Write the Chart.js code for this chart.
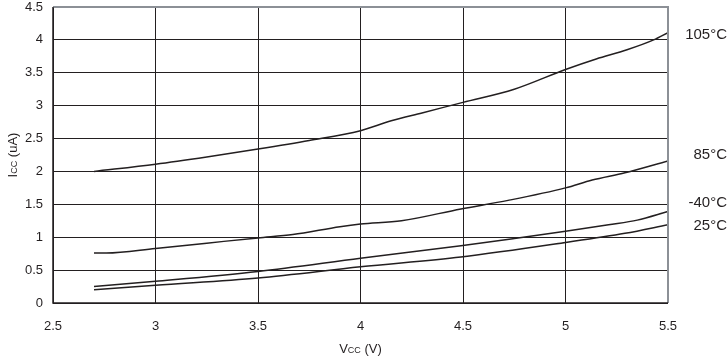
<!DOCTYPE html>
<html>
<head>
<meta charset="utf-8">
<script src="https://cdn.jsdelivr.net/npm/chart.js@4/dist/chart.umd.min.js"></script>
<style>
  html, body { margin: 0; padding: 0; background: #ffffff; }
  #wrap { width: 728px; height: 357px; position: relative; }
</style>
</head>
<body>
<div id="wrap"><canvas id="c" width="728" height="357"></canvas></div>
<script>
// ---- data ----
const seriesNames = ["105°C", "85°C", "-40°C", "25°C"];

const v105 = [2.7, 3.0, 3.25, 3.5, 3.75, 4.0, 4.15, 4.3, 4.5, 4.75, 5.0, 5.15, 5.3, 5.43, 5.5];
const i105 = [2.00, 2.11, 2.22, 2.34, 2.47, 2.62, 2.77, 2.89, 3.05, 3.25, 3.55, 3.71, 3.85, 4.00, 4.11];

const v85 = [2.7, 2.76, 3.0, 3.25, 3.5, 3.67, 3.9, 4.0, 4.2, 4.49, 4.72, 5.0, 5.13, 5.29, 5.5];
const i85 = [0.76, 0.76, 0.83, 0.91, 0.99, 1.04, 1.16, 1.20, 1.25, 1.43, 1.56, 1.75, 1.87, 1.98, 2.16];

const vM40 = [2.7, 3.0, 3.5, 4.0, 4.49, 4.75, 5.0, 5.21, 5.35, 5.5];
const iM40 = [0.25, 0.33, 0.48, 0.68, 0.87, 0.98, 1.09, 1.19, 1.26, 1.39];

const v25 = [2.7, 3.0, 3.5, 4.0, 4.49, 5.0, 5.29, 5.5];
const i25 = [0.20, 0.27, 0.38, 0.55, 0.70, 0.92, 1.06, 1.19];

// value at which each right-hand label sits
const labelAt = [4.07, 2.25, 1.52, 1.17];

const xTicks = [2.5, 3, 3.5, 4, 4.5, 5, 5.5];
const yTicks = [0, 0.5, 1, 1.5, 2, 2.5, 3, 3.5, 4, 4.5];

// ---- build ----
const INK = '#231f20';
const FONT = '"Liberation Sans", Arial, Helvetica, sans-serif';
function pts(xs, ys) { return xs.map((x, k) => ({ x: x, y: ys[k] })); }
const allSeries = [pts(v105, i105), pts(v85, i85), pts(vM40, iM40), pts(v25, i25)];

const datasets = allSeries.map((d, k) => ({
  label: seriesNames[k],
  data: d,
  borderColor: INK,
  borderWidth: 1.5,
  pointRadius: 0,
  fill: false,
  cubicInterpolationMode: 'monotone'
}));

function drawSubText(ctx, parts, x, y, align) {
  let total = 0;
  const widths = parts.map(p => {
    ctx.font = (p[1] ? '9px ' : '13px ') + FONT;
    const w = ctx.measureText(p[0]).width;
    total += w;
    return w;
  });
  let cx = align === 'center' ? x - total / 2 : x;
  parts.forEach((p, k) => {
    ctx.font = (p[1] ? '9px ' : '13px ') + FONT;
    ctx.fillText(p[0], cx, y + (p[1] ? 2 : 0));
    cx += widths[k];
  });
}

const decor = {
  id: 'decor',
  afterDatasetsDraw(chart) {
    const ctx = chart.ctx;
    const a = chart.chartArea;
    const ys = chart.scales.y;
    ctx.save();
    ctx.strokeStyle = '#8c9096';
    ctx.lineWidth = 2;
    ctx.beginPath();
    ctx.moveTo(a.left, a.top);
    ctx.lineTo(a.right, a.top);
    ctx.lineTo(a.right, a.bottom);
    ctx.stroke();
    ctx.strokeStyle = INK;
    ctx.lineWidth = 1.5;
    ctx.beginPath();
    ctx.moveTo(a.left, a.top);
    ctx.lineTo(a.left, a.bottom);
    ctx.lineTo(a.right, a.bottom);
    ctx.stroke();

    ctx.fillStyle = INK;
    ctx.font = '15px ' + FONT;
    ctx.textAlign = 'right';
    ctx.textBaseline = 'middle';
    seriesNames.forEach((n, k) => {
      ctx.fillText(n, 727, ys.getPixelForValue(labelAt[k]));
    });

    ctx.textAlign = 'left';
    ctx.textBaseline = 'middle';
    drawSubText(ctx, [['V', false], ['CC', true], [' (V)', false]], (a.left + a.right) / 2, 349, 'center');
    ctx.save();
    ctx.translate(13, (a.top + a.bottom) / 2);
    ctx.rotate(-Math.PI / 2);
    drawSubText(ctx, [['I', false], ['CC', true], [' (uA)', false]], 0, 0, 'center');
    ctx.restore();
    ctx.restore();
  }
};

new Chart(document.getElementById('c'), {
  type: 'line',
  data: { datasets: datasets },
  options: {
    responsive: false,
    animation: false,
    devicePixelRatio: 1,
    layout: { padding: { left: 0, right: 60, top: 7, bottom: 0 } },
    plugins: { legend: { display: false }, tooltip: { enabled: false } },
    scales: {
      x: {
        type: 'linear',
        min: xTicks[0],
        max: xTicks[xTicks.length - 1],
        afterBuildTicks(s) { s.ticks = xTicks.map(v => ({ value: v })); },
        afterFit(s) { s.height = 54; s.paddingLeft = 0; s.paddingRight = 0; },
        grid: { color: INK, lineWidth: 1, drawTicks: false },
        border: { display: false },
        ticks: { color: INK, font: { family: FONT, size: 13 }, padding: 16, maxRotation: 0,
          callback: v => String(v) }
      },
      y: {
        type: 'linear',
        min: yTicks[0],
        max: yTicks[yTicks.length - 1],
        afterBuildTicks(s) { s.ticks = yTicks.map(v => ({ value: v })); },
        afterFit(s) { s.width = 53; s.paddingTop = 0; s.paddingBottom = 0; },
        grid: { color: INK, lineWidth: 1, drawTicks: false },
        border: { display: false },
        ticks: { color: INK, font: { family: FONT, size: 13 }, padding: 10,
          callback: v => String(v) }
      }
    }
  },
  plugins: [decor]
});
</script>
</body>
</html>
